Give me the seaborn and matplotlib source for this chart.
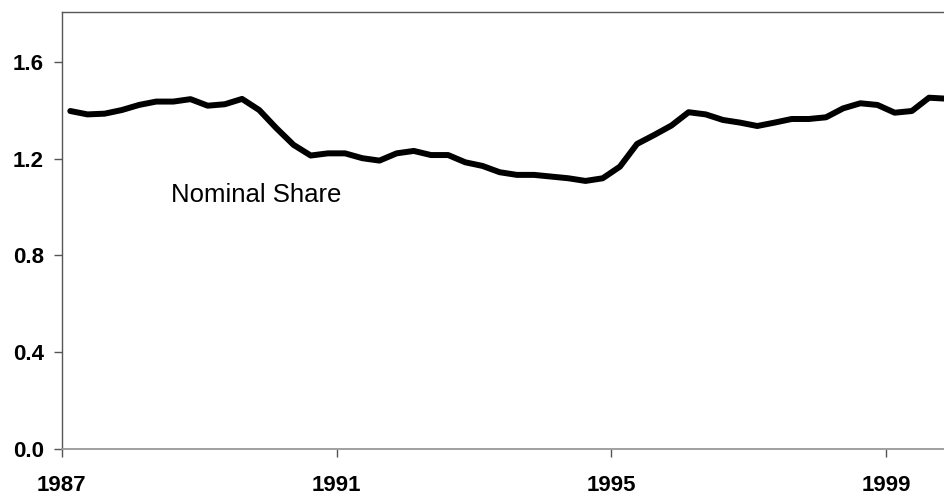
import numpy as np
import pandas as pd
import seaborn as sns
import matplotlib.pyplot as plt

# quarterly nominal share, 1987Q1 - 1999Q4
years = np.repeat(np.arange(1987, 2000), 4)
quarters = np.tile([1, 2, 3, 4], 13)
nominal_share = [
    1.397, 1.383, 1.386, 1.401, 1.422, 1.436, 1.436, 1.446,
    1.419, 1.425, 1.447, 1.401, 1.326, 1.257, 1.213, 1.222,
    1.222, 1.202, 1.192, 1.222, 1.232, 1.215, 1.215, 1.185,
    1.170, 1.144, 1.133, 1.133, 1.126, 1.119, 1.108, 1.119,
    1.167, 1.261, 1.298, 1.337, 1.392, 1.383, 1.360, 1.349,
    1.335, 1.349, 1.364, 1.364, 1.371, 1.408, 1.429, 1.422,
    1.390, 1.397, 1.452, 1.448,
]
year_ticks = [1987, 1991, 1995, 1999]
y_ticks = [0.0, 0.4, 0.8, 1.2, 1.6]

df = pd.DataFrame({
    'date': years + (quarters - 0.5) / 4,
    'share': nominal_share,
})

sns.set_style('white')
plt.rcParams['font.family'] = ['Liberation Sans', 'DejaVu Sans']

fig = plt.figure(figsize=(9.44, 4.97), dpi=100)
ax = fig.add_axes([61.7 / 944, 48 / 497, (944 - 61.7) / 944, 436.7 / 497])

sns.lineplot(data=df, x='date', y='share', ax=ax, color='black', linewidth=4.3)

ax.set_xlim(1987, 1987 + (944 - 61.7) / 68.7)
ax.set_ylim(0, 1.805)
ax.set_xticks(year_ticks)
ax.set_yticks(y_ticks)
ax.set_yticklabels([f'{v:.1f}' for v in y_ticks])
ax.set_xlabel('')
ax.set_ylabel('')

for lab in ax.get_xticklabels() + ax.get_yticklabels():
    lab.set_fontweight('bold')
    lab.set_fontsize(16)
    lab.set_color('black')

ax.tick_params(axis='x', direction='out', length=6, width=1, color='#555555', pad=13, bottom=True)
ax.tick_params(axis='y', direction='out', length=6, width=1, color='#555555', pad=7, left=True)
ax.yaxis.get_major_ticks()[0].tick1line.set_color('#999999')

ax.spines['right'].set_visible(False)
ax.spines['left'].set_color('#555555')
ax.spines['top'].set_color('#555555')
ax.spines['bottom'].set_color('#999999')
ax.spines['bottom'].set_linewidth(1.3)
for s in ['left', 'top']:
    ax.spines[s].set_linewidth(1.0)

ax.text(1988.587, 1.021, 'Nominal Share', fontsize=18.5, va='baseline', ha='left', color='black')

fig.savefig('out.png', dpi=100)
